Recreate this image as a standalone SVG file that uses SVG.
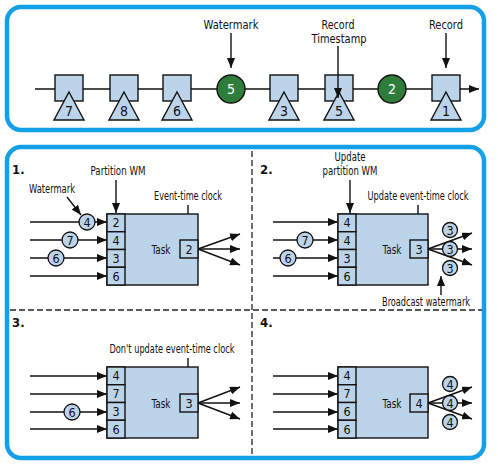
<svg xmlns="http://www.w3.org/2000/svg" width="498" height="464" viewBox="0 0 498 464">
<defs>
<marker id="ah" markerUnits="userSpaceOnUse" markerWidth="10" markerHeight="8" refX="10" refY="4" orient="auto"><path d="M0,0 L10,4 L0,8 z" fill="#111"/></marker>
<style>
.frame{fill:#fff;stroke:#14a0e6;stroke-width:4.5}
.ar{stroke:#111;stroke-width:1.4;fill:none;marker-end:url(#ah)}
.bx{fill:#bcd4ea;stroke:#111;stroke-width:1.4}
.wm{fill:#2f7d3b;stroke:#111;stroke-width:1.4}
.cw{fill:#bcd4ea;stroke:#111;stroke-width:1.3}
.dash{stroke:#222;stroke-width:1.3;stroke-dasharray:6 3;fill:none}
text{font-family:"DejaVu Sans Condensed","Liberation Sans",sans-serif;font-size:12px;fill:#111}
.c{text-anchor:middle}
.d{font-size:12.5px}
.t{font-size:14px}
.w{fill:#fff}
.n{font-weight:bold;font-size:13px}
</style>
</defs>
<rect class="frame" x="7" y="7" width="477" height="123" rx="14"/>
<rect class="frame" x="7" y="147" width="477" height="311" rx="14"/>

<g id="connectors">
<line class="ar" x1="35" y1="89" x2="479" y2="89"/>
<line class="ar" x1="231" y1="33" x2="231" y2="68"/>
<line class="ar" x1="446" y1="33" x2="446" y2="68"/>
<line class="ar" x1="30" y1="222" x2="107" y2="222"/>
<line class="ar" x1="30" y1="240" x2="107" y2="240"/>
<line class="ar" x1="30" y1="258" x2="107" y2="258"/>
<line class="ar" x1="30" y1="276" x2="107" y2="276"/>
<line class="ar" x1="67" y1="197" x2="81" y2="215"/>
<line class="ar" x1="116" y1="180" x2="116" y2="213"/>
<line class="ar" x1="188" y1="205" x2="188" y2="239"/>
<line class="ar" x1="198" y1="249" x2="240" y2="234"/>
<line class="ar" x1="198" y1="249" x2="240" y2="249"/>
<line class="ar" x1="198" y1="249" x2="240" y2="265"/>
<line class="ar" x1="273" y1="222" x2="338" y2="222"/>
<line class="ar" x1="273" y1="240" x2="338" y2="240"/>
<line class="ar" x1="273" y1="258" x2="338" y2="258"/>
<line class="ar" x1="273" y1="276" x2="338" y2="276"/>
<line class="ar" x1="350" y1="180" x2="350" y2="213"/>
<line class="ar" x1="418" y1="205" x2="418" y2="239"/>
<line class="ar" x1="428" y1="249" x2="472" y2="233"/>
<line class="ar" x1="428" y1="249" x2="472" y2="249"/>
<line class="ar" x1="428" y1="249" x2="472" y2="265"/>
<line class="ar" x1="441" y1="295" x2="441" y2="276"/>
<line class="ar" x1="30" y1="376" x2="107" y2="376"/>
<line class="ar" x1="30" y1="394" x2="107" y2="394"/>
<line class="ar" x1="30" y1="412" x2="107" y2="412"/>
<line class="ar" x1="30" y1="429" x2="107" y2="429"/>
<line class="ar" x1="188" y1="358" x2="188" y2="392"/>
<line class="ar" x1="198" y1="403" x2="240" y2="387"/>
<line class="ar" x1="198" y1="403" x2="240" y2="403"/>
<line class="ar" x1="198" y1="403" x2="240" y2="419"/>
<line class="ar" x1="273" y1="376" x2="338" y2="376"/>
<line class="ar" x1="273" y1="394" x2="338" y2="394"/>
<line class="ar" x1="273" y1="412" x2="338" y2="412"/>
<line class="ar" x1="273" y1="429" x2="338" y2="429"/>
<line class="ar" x1="428" y1="403" x2="472" y2="387"/>
<line class="ar" x1="428" y1="403" x2="472" y2="403"/>
<line class="ar" x1="428" y1="403" x2="472" y2="419"/>
</g>

<line class="dash" x1="10" y1="310" x2="482" y2="310"/>
<line class="dash" x1="252" y1="151" x2="252" y2="456"/>

<g id="r7"><rect class="bx" x="55" y="75" width="28" height="26"/><path class="bx" d="M69,92 L84,120 L54,120 z"/><text class="c t" x="69" y="116">7</text></g>
<g id="r8"><rect class="bx" x="110" y="75" width="28" height="26"/><path class="bx" d="M124,92 L139,120 L109,120 z"/><text class="c t" x="124" y="116">8</text></g>
<g id="r6"><rect class="bx" x="163" y="75" width="28" height="26"/><path class="bx" d="M177,92 L192,120 L162,120 z"/><text class="c t" x="177" y="116">6</text></g>
<g id="wm5"><circle class="wm" cx="231" cy="89" r="14"/><text class="c t w" x="231" y="94">5</text></g>
<g id="r3"><rect class="bx" x="270" y="75" width="28" height="26"/><path class="bx" d="M284,92 L299,120 L269,120 z"/><text class="c t" x="284" y="116">3</text></g>
<g id="r5"><rect class="bx" x="325" y="75" width="28" height="26"/><path class="bx" d="M339,92 L354,120 L324,120 z"/><text class="c t" x="339" y="116">5</text></g>
<g id="wm2"><circle class="wm" cx="392" cy="89" r="14"/><text class="c t w" x="392" y="94">2</text></g>
<g id="r1"><rect class="bx" x="432" y="75" width="28" height="26"/><path class="bx" d="M446,92 L461,120 L431,120 z"/><text class="c t" x="446" y="116">1</text></g>
<line class="ar" x1="338" y1="46" x2="338" y2="98"/>
<g id="toplabels">
<text class="c" x="231" y="29" textLength="55" lengthAdjust="spacingAndGlyphs">Watermark</text>
<text class="c" x="338" y="29" textLength="33" lengthAdjust="spacingAndGlyphs">Record</text>
<text class="c" x="339" y="43" textLength="55" lengthAdjust="spacingAndGlyphs">Timestamp</text>
<text class="c" x="446" y="29" textLength="34" lengthAdjust="spacingAndGlyphs">Record</text>
</g>

<g id="p1">
<text class="n" x="12" y="174">1.</text>
<text class="c" x="52" y="193" textLength="46" lengthAdjust="spacingAndGlyphs">Watermark</text>
<text class="c" x="118" y="175" textLength="55" lengthAdjust="spacingAndGlyphs">Partition WM</text>
<text class="c" x="188" y="200" textLength="68" lengthAdjust="spacingAndGlyphs">Event-time clock</text>
<rect class="bx" x="107" y="214" width="91" height="71"/>
<rect class="bx" x="107" y="214" width="18" height="17.75"/>
<rect class="bx" x="107" y="231.75" width="18" height="17.75"/>
<rect class="bx" x="107" y="249.5" width="18" height="17.75"/>
<rect class="bx" x="107" y="267.25" width="18" height="17.75"/>
<text class="c d" x="116" y="227">2</text><text class="c d" x="116" y="245">4</text><text class="c d" x="116" y="263">3</text><text class="c d" x="116" y="281">6</text>
<text class="c" x="161" y="254" textLength="19" lengthAdjust="spacingAndGlyphs">Task</text>
<rect class="bx" x="180" y="240" width="18" height="18"/><text class="c d" x="189" y="254">2</text>
<circle class="cw" cx="87" cy="222" r="8"/><text class="c d" x="87" y="226.5">4</text>
<circle class="cw" cx="70" cy="240" r="8"/><text class="c d" x="70" y="244.5">7</text>
<circle class="cw" cx="56" cy="258" r="8"/><text class="c d" x="56" y="262.5">6</text>
</g>

<g id="p2">
<text class="n" x="260" y="174">2.</text>
<text class="c" x="350" y="161" textLength="31" lengthAdjust="spacingAndGlyphs">Update</text>
<text class="c" x="350" y="175" textLength="55" lengthAdjust="spacingAndGlyphs">partition WM</text>
<text class="c" x="418" y="200" textLength="101" lengthAdjust="spacingAndGlyphs">Update event-time clock</text>
<rect class="bx" x="338" y="214" width="90" height="71"/>
<rect class="bx" x="338" y="214" width="18" height="17.75"/>
<rect class="bx" x="338" y="231.75" width="18" height="17.75"/>
<rect class="bx" x="338" y="249.5" width="18" height="17.75"/>
<rect class="bx" x="338" y="267.25" width="18" height="17.75"/>
<text class="c d" x="347" y="227">4</text><text class="c d" x="347" y="245">4</text><text class="c d" x="347" y="263">3</text><text class="c d" x="347" y="281">6</text>
<text class="c" x="392" y="254" textLength="19" lengthAdjust="spacingAndGlyphs">Task</text>
<rect class="bx" x="410" y="240" width="18" height="18"/><text class="c d" x="419" y="254">3</text>
<circle class="cw" cx="305" cy="240" r="8"/><text class="c d" x="305" y="244.5">7</text>
<circle class="cw" cx="288" cy="258" r="8"/><text class="c d" x="288" y="262.5">6</text>
<circle class="cw" cx="450" cy="230" r="7.5"/><text class="c d" x="450" y="234.5">3</text>
<circle class="cw" cx="450" cy="249" r="7.5"/><text class="c d" x="450" y="253.5">3</text>
<circle class="cw" cx="450" cy="268" r="7.5"/><text class="c d" x="450" y="272.5">3</text>
<text class="c" x="426" y="306" textLength="88" lengthAdjust="spacingAndGlyphs">Broadcast watermark</text>
</g>

<g id="p3">
<text class="n" x="12" y="327">3.</text>
<text class="c" x="172" y="353" textLength="125" lengthAdjust="spacingAndGlyphs">Don't update event-time clock</text>
<rect class="bx" x="107" y="367" width="91" height="71"/>
<rect class="bx" x="107" y="367" width="18" height="17.75"/>
<rect class="bx" x="107" y="384.75" width="18" height="17.75"/>
<rect class="bx" x="107" y="402.5" width="18" height="17.75"/>
<rect class="bx" x="107" y="420.25" width="18" height="17.75"/>
<text class="c d" x="116" y="380">4</text><text class="c d" x="116" y="398">7</text><text class="c d" x="116" y="416">3</text><text class="c d" x="116" y="434">6</text>
<text class="c" x="161" y="408" textLength="19" lengthAdjust="spacingAndGlyphs">Task</text>
<rect class="bx" x="180" y="394" width="18" height="18"/><text class="c d" x="189" y="408">3</text>
<circle class="cw" cx="72" cy="412" r="8"/><text class="c d" x="72" y="416.5">6</text>
</g>

<g id="p4">
<text class="n" x="260" y="327">4.</text>
<rect class="bx" x="338" y="367" width="90" height="71"/>
<rect class="bx" x="338" y="367" width="18" height="17.75"/>
<rect class="bx" x="338" y="384.75" width="18" height="17.75"/>
<rect class="bx" x="338" y="402.5" width="18" height="17.75"/>
<rect class="bx" x="338" y="420.25" width="18" height="17.75"/>
<text class="c d" x="347" y="380">4</text><text class="c d" x="347" y="398">7</text><text class="c d" x="347" y="416">6</text><text class="c d" x="347" y="434">6</text>
<text class="c" x="392" y="408" textLength="19" lengthAdjust="spacingAndGlyphs">Task</text>
<rect class="bx" x="410" y="394" width="18" height="18"/><text class="c d" x="419" y="408">4</text>
<circle class="cw" cx="450" cy="384" r="7.5"/><text class="c d" x="450" y="388.5">4</text>
<circle class="cw" cx="450" cy="403" r="7.5"/><text class="c d" x="450" y="407.5">4</text>
<circle class="cw" cx="450" cy="422" r="7.5"/><text class="c d" x="450" y="426.5">4</text>
</g>
</svg>
